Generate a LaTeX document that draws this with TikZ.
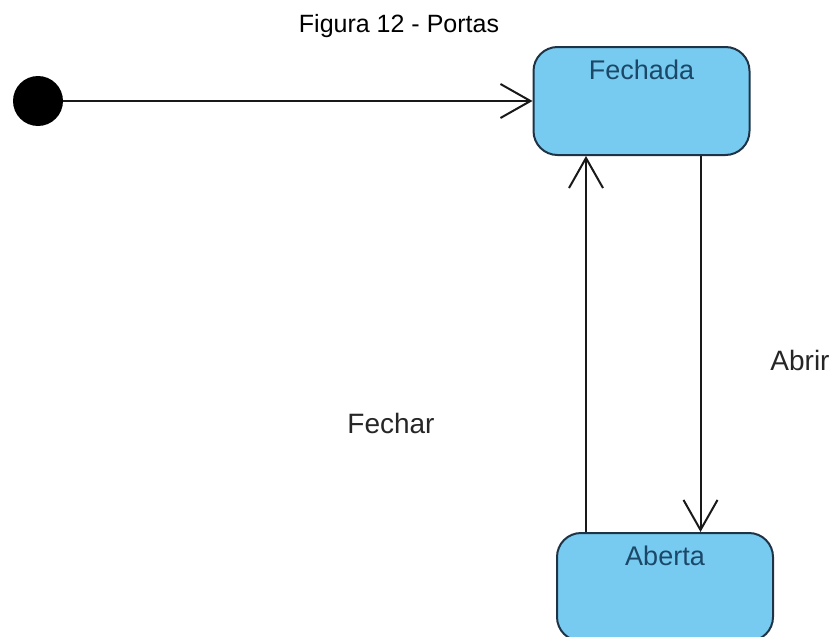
\documentclass[tikz,border=0pt]{standalone}
\usepackage{fontspec}
\setmainfont{Liberation Sans}
\usetikzlibrary{positioning,arrows.meta}
\definecolor{stfill}{HTML}{78CBF0}
\definecolor{stdraw}{HTML}{1E3346}
\definecolor{sttext}{HTML}{1B4868}

\begin{document}
\begin{tikzpicture}[x=1pt,y=-1pt,
  st/.style={draw=stdraw,line width=2pt,fill=stfill,rounded corners=24pt,minimum width=216pt,minimum height=108pt,inner sep=0pt,text height=20pt,text depth=64pt,text=sttext,font=\fontsize{27}{30}\selectfont},
  e/.style={-{Straight Barb[length=30pt,width=34pt]},line width=2pt,color=black!90},
  lbl/.style={font=\fontsize{28}{30}\selectfont,text=black!85,anchor=base,inner sep=0pt}]
  \useasboundingbox (0,0) rectangle (838,637);
  \node[lbl,text=black,font=\fontsize{25}{28}\selectfont] (title) at (399,32) {Figura 12 - Portas};
  \node[circle,fill=black,minimum size=50pt,inner sep=0pt] (init) at (38,101) {};
  \node[st] (fechada) at (641.5,101) {Fechada};
  \node[st] (aberta) at (665,587) {Aberta};
  \draw[e] (init) -- (fechada);
  % transitions
  \draw[e] ([xshift=30pt]aberta.north west) -- ([xshift=30pt]aberta.north west |- fechada.south);
  \draw[e] ([xshift=-50pt]fechada.south east) -- ([xshift=-50pt]fechada.south east |- aberta.north);
  \node[lbl] (fechar) at (391,433) {Fechar};
  \node[lbl] (abrir) at (800,370) {Abrir};
\end{tikzpicture}
\end{document}
